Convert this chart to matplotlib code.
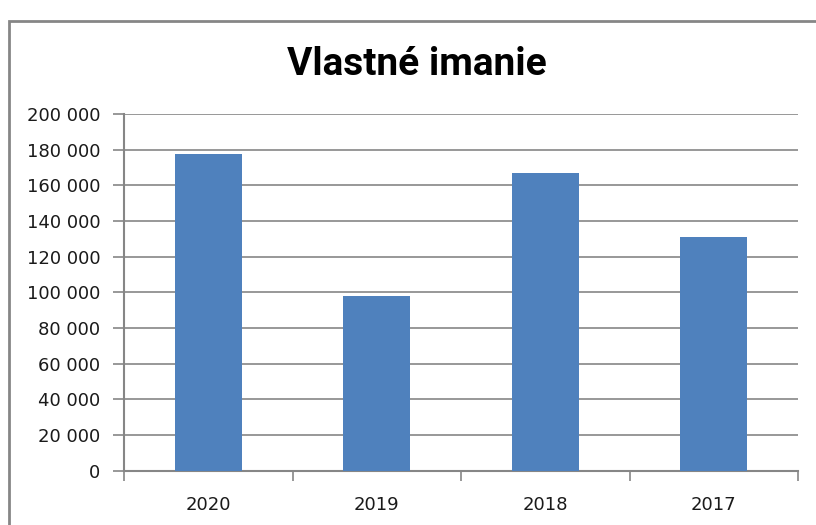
import matplotlib
matplotlib.use("Agg")
import matplotlib.pyplot as plt
from matplotlib.patches import Rectangle
from matplotlib.ticker import FuncFormatter, MultipleLocator

categories = ["2020", "2019", "2018", "2017"]
values = [177500, 98000, 166800, 130900]
title = "Vlastné imanie"

plt.rcParams['font.family'] = ['DejaVu Sans']

fig = plt.figure(figsize=(8.16, 5.25), dpi=100)
fig.patch.set_facecolor("white")
fig.add_artist(Rectangle((9/816, -0.05), 1.0, 1.05 - 21/525, transform=fig.transFigure,
                         fill=False, edgecolor="#868686", linewidth=2))

ax = fig.add_axes([124/816, 1 - 470.7/525, (798-124)/816, (470.7-114)/525])
x = list(range(len(categories)))
ax.bar(x, values, width=0.40, color="#4F81BD", zorder=3)
ax.set_xlim(-0.5, len(categories) - 0.5)
ax.set_ylim(0, 200000)
ax.yaxis.set_major_locator(MultipleLocator(20000))
ax.yaxis.set_major_formatter(FuncFormatter(lambda v, p: f"{int(v):,}".replace(",", " ")))
ax.grid(axis="y", color="#868686", linewidth=1.2, zorder=0)
ax.set_xticks([i + 0.5 for i in range(-1, len(categories))])
ax.set_xticklabels([])
ax.set_xticks(x, minor=True)
ax.set_xticklabels(categories, minor=True)
ax.tick_params(axis="x", which="major", length=7, color="#868686", width=1.2, direction="out")
ax.tick_params(axis="x", which="minor", length=0, labelsize=13, pad=18, labelcolor="#1a1a1a")
ax.tick_params(axis="y", length=8, color="#868686", width=1.2, labelsize=13, pad=9, labelcolor="#1a1a1a")
for s in ["top", "right"]:
    ax.spines[s].set_visible(False)
for s in ["left", "bottom"]:
    ax.spines[s].set_color("#868686")
    ax.spines[s].set_linewidth(1.5)

fig.text(417/816, 1 - 75/525, title, ha="center", va="baseline",
         fontsize=28, fontweight="bold",
         family=['Roboto', 'Open Sans', 'DejaVu Sans'])

fig.savefig("out.png", dpi=100)
